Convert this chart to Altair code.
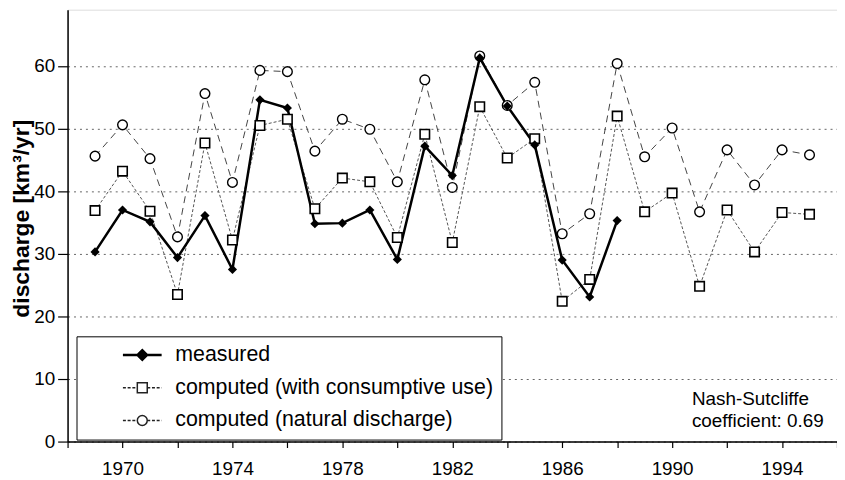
import altair as alt
import pandas as pd

# ---------------- data ----------------
years = list(range(1969, 1996))
measured_years = list(range(1969, 1989))
measured = [30.3, 37.0, 35.1, 29.4, 36.1, 27.5, 54.6, 53.3, 34.8, 34.9,
            37.0, 29.1, 47.2, 42.5, 61.3, 53.6, 47.4, 29.0, 23.1, 35.3]
consumptive = [36.9, 43.2, 36.8, 23.5, 47.7, 32.2, 50.5, 51.5, 37.2, 42.1,
               41.5, 32.6, 49.1, 31.8, 53.5, 45.3, 48.4, 22.4, 25.9, 52.0,
               36.7, 39.7, 24.8, 37.0, 30.3, 36.6, 36.3]
natural = [45.6, 50.6, 45.2, 32.7, 55.6, 41.4, 59.3, 59.1, 46.4, 51.5,
           49.9, 41.5, 57.8, 40.6, 61.6, 53.7, 57.4, 33.2, 36.4, 60.4,
           45.5, 50.1, 36.7, 46.6, 41.0, 46.6, 45.8]
series_names = ["measured",
                "computed (with consumptive use)",
                "computed (natural discharge)"]
y_ticks = [0, 10, 20, 30, 40, 50, 60]
x_ticks = list(range(1968, 1997))
x_label_years = [1970, 1974, 1978, 1982, 1986, 1990, 1994]
note_lines = ["Nash-Sutcliffe", "coefficient: 0.69"]
note_year = [1990.72, 1990.72]
note_value = [6.8, 3.2]

# ---------------- tables ----------------
rows = []
for y, v in zip(measured_years, measured):
    rows.append({"year": y, "value": v, "series": series_names[0]})
for y, v in zip(years, consumptive):
    rows.append({"year": y, "value": v, "series": series_names[1]})
for y, v in zip(years, natural):
    rows.append({"year": y, "value": v, "series": series_names[2]})
df = pd.DataFrame(rows)
note_df = pd.DataFrame({"year": note_year, "value": note_value, "text": note_lines})

FONT = "Liberation Sans"

# ---------------- legend symbols (line + marker as one path) ----------------
def dashes(a, b, dash=0.6, gap=0.35):
    out = []
    p = a
    while p < b - 1e-6:
        q = min(p + dash, b)
        out.append(f"M{p:.2f},0H{q:.2f}")
        p = q + gap
    return "".join(out)

path_measured = ("M5.6,0H13.4M5.6,-0.1H13.4M5.6,0.1H13.4"
                 "M9.5,-1.1L10.6,0L9.5,1.1L8.4,0Z")
path_consumptive = dashes(5.6, 8.5) + dashes(10.5, 13.4) + "M8.5,-1H10.5V1H8.5Z"
path_natural = (dashes(5.6, 8.5) + dashes(10.5, 13.4)
                + "M10.5,0A1,1,0,1,1,8.5,0A1,1,0,1,1,10.5,0Z")

label_expr = ("indexof([" + ",".join(str(v) for v in x_label_years)
              + "], datum.value) >= 0 ? datum.value : ''")

x_enc = alt.X("year:Q",
              scale=alt.Scale(domain=[1968, 1996], nice=False, zero=False),
              axis=alt.Axis(values=x_ticks, labelExpr=label_expr, format="d",
                            title=None, grid=False, tickSize=6, labelPadding=12,
                            labelFontSize=19, labelFont=FONT, labelColor="black",
                            domainColor="black", domainWidth=1.5, tickColor="black",
                            tickWidth=1.2, labelFlush=False, labelOverlap=False))
y_enc = alt.Y("value:Q",
              scale=alt.Scale(domain=[0, 69], nice=False),
              axis=alt.Axis(values=y_ticks, title="discharge [km³/yr]",
                            titleFont=FONT, titleFontSize=23, titleFontWeight="bold",
                            titleColor="black", titleX=-46, titleY=210,
                            titleAngle=270, titleBaseline="middle", titleAlign="center",
                            grid=True, gridDash=[2, 4], gridColor="#666", gridWidth=1,
                            tickSize=10, labelPadding=3, labelFontSize=19,
                            labelFont=FONT, labelColor="black", domainColor="black",
                            domainWidth=1.5, tickColor="black", tickWidth=1.2))

base = alt.Chart(df).encode(x=x_enc, y=y_enc)

def only(name):
    return alt.datum.series == name

line_nat = base.transform_filter(only(series_names[2])).mark_line(
    color="#444", strokeWidth=1, strokeDash=[7, 5])
line_con = base.transform_filter(only(series_names[1])).mark_line(
    color="#555", strokeWidth=1, strokeDash=[3, 2])
line_mea = base.transform_filter(only(series_names[0])).mark_line(
    color="black", strokeWidth=2.5)

pts_nat = base.transform_filter(only(series_names[2])).mark_point(
    shape="circle", size=95, filled=True, fill="white", stroke="black",
    strokeWidth=1.4, opacity=1)
pts_con = base.transform_filter(only(series_names[1])).mark_point(
    shape="square", size=90, filled=True, fill="white", stroke="black",
    strokeWidth=1.6, opacity=1)
pts_mea = base.transform_filter(only(series_names[0])).mark_point(
    shape="diamond", size=85, filled=True, color="black", opacity=1)

leg = alt.Legend(orient="none", legendX=9, legendY=329, title=None,
                 symbolSize=100, labelOffset=70, labelFontSize=21.5,
                 labelFont=FONT, labelColor="black", padding=8,
                 strokeColor="black", fillColor="white", rowPadding=10,
                 symbolStrokeWidth=1.5, symbolStrokeColor="black",
                 labelLimit=700)

legend_layer = base.transform_filter("false").mark_point(
    strokeWidth=1.5, opacity=1).encode(
    shape=alt.Shape("series:N", sort=series_names,
                    scale=alt.Scale(domain=series_names,
                                    range=[path_measured, path_consumptive, path_natural]),
                    legend=leg),
    fill=alt.Fill("series:N", sort=series_names,
                  scale=alt.Scale(domain=series_names,
                                  range=["black", "white", "white"]),
                  legend=leg),
    stroke=alt.Stroke("series:N", sort=series_names,
                      scale=alt.Scale(domain=series_names,
                                      range=["black", "#222", "#222"]),
                      legend=leg),
)

note = alt.Chart(note_df).mark_text(
    align="left", baseline="middle", fontSize=19, font=FONT, color="black"
).encode(x=alt.X("year:Q"), y=alt.Y("value:Q"), text="text:N")

chart = alt.layer(
    line_nat, line_con, line_mea, pts_nat, pts_con, pts_mea, legend_layer, note
).properties(
    width=775, height=435,
    autosize=alt.AutoSizeParams(type="none"),
    padding={"left": 60, "top": 0, "right": 0, "bottom": 36},
).configure_view(
    stroke="#777", strokeDash=[2, 2], strokeWidth=1
).configure(background="white")

chart.save("out.html", embed_options={"renderer": "svg", "actions": False})
